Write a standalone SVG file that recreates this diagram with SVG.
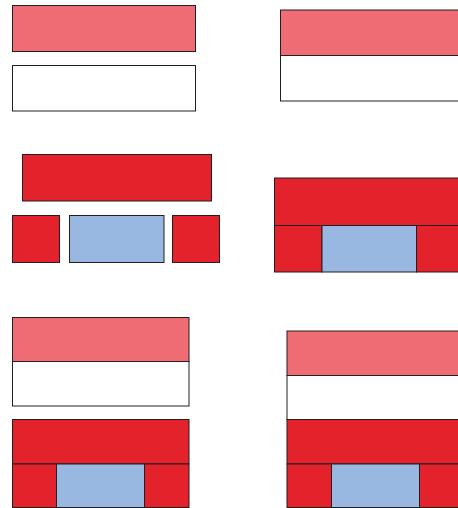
<svg xmlns="http://www.w3.org/2000/svg" width="458" height="508" viewBox="0 0 458 508">
<style>
rect{stroke:#231f20;stroke-width:1}
.p{fill:#f06c74}
.w{fill:#ffffff}
.r{fill:#e4222b}
.b{fill:#98b8e1}
</style>
<rect width="458" height="508" fill="#fff" style="stroke:none"/>
<g id="top-left">
<rect class="p" x="12.5" y="5.5" width="183" height="46"/>
<rect class="w" x="12.5" y="65.5" width="183" height="45.5"/>
</g>
<g id="top-right">
<rect class="p" x="280.5" y="10" width="190" height="45.5"/>
<rect class="w" x="280.5" y="55.5" width="190" height="45.5"/>
</g>
<g id="mid-left">
<rect class="r" x="22.5" y="154.5" width="189" height="46.5"/>
<rect class="r" x="12.5" y="215.5" width="47" height="47"/>
<rect class="b" x="69.5" y="215.5" width="94.5" height="47"/>
<rect class="r" x="172.5" y="215.5" width="47" height="47"/>
</g>
<g id="mid-right">
<rect class="r" x="274.5" y="178" width="190" height="47.5"/>
<rect class="r" x="274.5" y="225.5" width="47.5" height="46.5"/>
<rect class="b" x="322" y="225.5" width="94.5" height="46.5"/>
<rect class="r" x="416.5" y="225.5" width="50" height="46.5"/>
</g>
<g id="bottom-left">
<rect class="p" x="12.5" y="317.5" width="176.5" height="44"/>
<rect class="w" x="12.5" y="361.5" width="176.5" height="44.5"/>
<rect class="r" x="12.5" y="419.5" width="176.5" height="44.5"/>
<rect class="r" x="12.5" y="464" width="44" height="43.5"/>
<rect class="b" x="56.5" y="464" width="88" height="43.5"/>
<rect class="r" x="144.5" y="464" width="44.5" height="43.5"/>
</g>
<g id="bottom-right">
<rect class="p" x="287" y="331" width="180" height="44.5"/>
<rect class="w" x="287" y="375.5" width="180" height="44"/>
<rect class="r" x="287" y="419.5" width="180" height="44.5"/>
<rect class="r" x="287" y="464" width="44.5" height="43.5"/>
<rect class="b" x="331.5" y="464" width="88" height="43.5"/>
<rect class="r" x="419.5" y="464" width="48" height="43.5"/>
</g>
</svg>
